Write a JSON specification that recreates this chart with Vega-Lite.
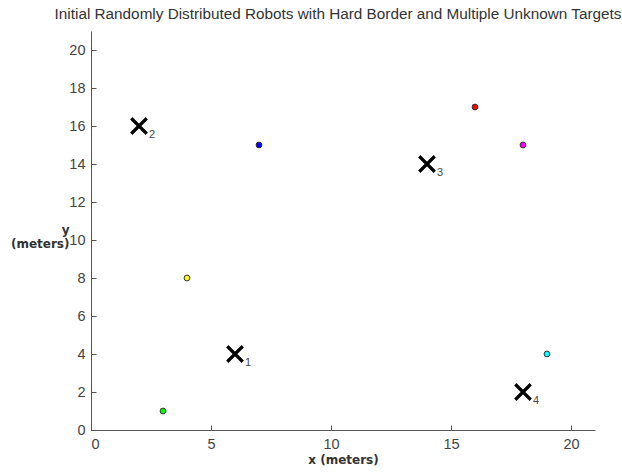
{
  "$schema": "https://vega.github.io/schema/vega-lite/v6.json",
  "width": 504,
  "height": 399,
  "autosize": {"type": "none"},
  "padding": {"left": 91, "top": 31, "right": 27, "bottom": 44},
  "background": "white",
  "title": {
    "text": "Initial Randomly Distributed Robots with Hard Border and Multiple Unknown Targets",
    "font": "Liberation Sans",
    "fontSize": 15.3,
    "fontWeight": "normal",
    "color": "#333333",
    "anchor": "middle",
    "offset": 9,
    "dx": -5
  },
  "config": {
    "view": {"stroke": null},
    "axis": {
      "grid": false,
      "domainColor": "#555555",
      "tickColor": "#555555",
      "tickSize": -5,
      "labelFont": "Liberation Sans",
      "labelFontSize": 14.5,
      "labelColor": "#444444",
      "labelOverlap": false,
      "titleFont": "DejaVu Sans",
      "titleFontSize": 12,
      "titleFontWeight": "bold",
      "titleColor": "#333333"
    }
  },
  "datasets": {
    "robots": [
      {"x": 7, "y": 15, "c": "#0000ff"},
      {"x": 16, "y": 17, "c": "#ff0000"},
      {"x": 18, "y": 15, "c": "#ff00ff"},
      {"x": 4, "y": 8, "c": "#ffff00"},
      {"x": 3, "y": 1, "c": "#00ff00"},
      {"x": 19, "y": 4, "c": "#00ffff"}
    ],
    "targets": [
      {"x": 6, "y": 4, "id": "1"},
      {"x": 2, "y": 16, "id": "2"},
      {"x": 14, "y": 14, "id": "3"},
      {"x": 18, "y": 2, "id": "4"}
    ]
  },
  "layer": [
    {
      "data": {"name": "targets"},
      "mark": {"type": "point", "shape": "M-1,-1L1,1M1,-1L-1,1", "size": 240, "filled": false, "stroke": "black", "strokeWidth": 3.2, "opacity": 1},
      "encoding": {
        "x": {"field": "x", "type": "quantitative", "scale": {"domain": [0, 21], "nice": false}, "axis": {"values": [0, 5, 10, 15, 20], "labelOverlap": false, "labelPadding": 12, "title": "x (meters)", "titlePadding": 4}},
        "y": {"field": "y", "type": "quantitative", "scale": {"domain": [0, 21], "nice": false}, "axis": {"values": [0, 2, 4, 6, 8, 10, 12, 14, 16, 18, 20], "tickCount": 11, "labelOverlap": false, "labelPadding": 11, "title": ["y", "(meters)"], "titleAngle": 0, "titleAlign": "right", "titleBaseline": "alphabetic", "titleX": -22, "titleY": 202}}
      }
    },
    {
      "data": {"name": "targets"},
      "mark": {"type": "text", "dx": 13, "dy": 8.5, "fontSize": 11, "font": "Liberation Sans", "color": "#444444", "align": "center", "baseline": "middle"},
      "encoding": {
        "x": {"field": "x", "type": "quantitative"},
        "y": {"field": "y", "type": "quantitative"},
        "text": {"field": "id"}
      }
    },
    {
      "data": {"name": "robots"},
      "mark": {"type": "point", "shape": "circle", "filled": true, "size": 34, "stroke": "#333333", "strokeWidth": 1, "opacity": 1},
      "encoding": {
        "x": {"field": "x", "type": "quantitative"},
        "y": {"field": "y", "type": "quantitative"},
        "fill": {"field": "c", "type": "nominal", "scale": null}
      }
    }
  ]
}
